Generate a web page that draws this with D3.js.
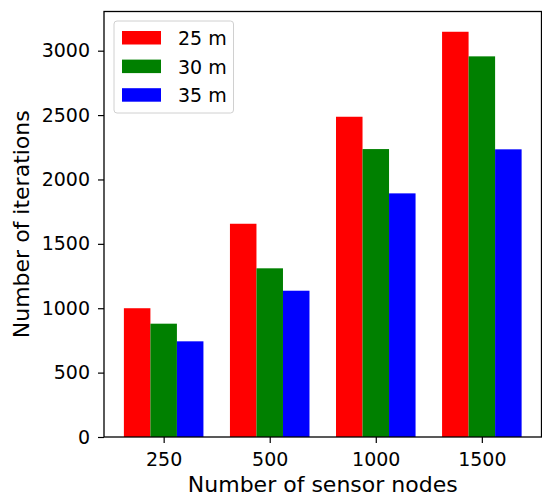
<!DOCTYPE html>
<html>
<head>
<meta charset="utf-8">
<script src="https://cdn.jsdelivr.net/npm/d3@7"></script>
<style>
  body { margin: 0; background: #fff; }
  svg { display: block; font-family: "DejaVu Sans", sans-serif; }
</style>
</head>
<body>
<svg id="chart" width="542" height="496"></svg>
<script>
var nodes = ["250", "500", "1000", "1500"];
var ranges = ["25 m", "30 m", "35 m"];
var colors = ["#ff0000", "#008000", "#0000ff"];
var iters25 = [1000, 1656, 2487, 3147];
var iters30 = [880, 1310, 2236, 2956];
var iters35 = [743, 1136, 1892, 2234];
var yTicks = [0, 500, 1000, 1500, 2000, 2500, 3000];

var series = [iters25, iters30, iters35];

var margin = {left: 104, right: 0.5, top: 11.5, bottom: 59};
var width = 542, height = 496;
var tickFont = 19, labelFont = 22;

var svg = d3.select("#chart");

var x = d3.scalePoint()
  .domain(nodes)
  .range([margin.left, width - margin.right])
  .padding(0.5625);

var step = x.step();
var x1 = d3.scaleBand()
  .domain(ranges)
  .range([-step * 0.375, step * 0.375]);

var ymax = d3.max(series, s => d3.max(s)) * 1.05;
var y = d3.scaleLinear()
  .domain([0, ymax])
  .range([height - margin.bottom, margin.top]);

// bars
series.forEach(function (vals, si) {
  svg.append("g")
    .attr("fill", colors[si])
    .selectAll("rect")
    .data(vals)
    .enter().append("rect")
    .attr("x", (d, i) => x(nodes[i]) + x1(ranges[si]))
    .attr("width", x1.bandwidth())
    .attr("y", d => y(d))
    .attr("height", d => y(0) - y(d));
});

// axes
function styleAxis(g) {
  g.select(".domain").remove();
  g.selectAll(".tick line").attr("stroke", "#000").attr("stroke-width", 1.2);
  g.selectAll(".tick text").attr("fill", "#000").attr("font-size", tickFont + "px")
    .attr("font-family", "DejaVu Sans, sans-serif");
}

svg.append("g")
  .attr("transform", `translate(0,${height - margin.bottom})`)
  .call(d3.axisBottom(x).tickSize(6).tickPadding(10))
  .call(styleAxis);

svg.append("g")
  .attr("transform", `translate(${margin.left},0)`)
  .call(d3.axisLeft(y).tickValues(yTicks).tickFormat(d3.format("d")).tickSize(6).tickPadding(8))
  .call(styleAxis);

// frame
svg.append("rect")
  .attr("x", margin.left)
  .attr("y", margin.top)
  .attr("width", width - margin.right - margin.left)
  .attr("height", height - margin.bottom - margin.top)
  .attr("fill", "none")
  .attr("stroke", "#000")
  .attr("stroke-width", 1.3);

// axis labels
svg.append("text")
  .attr("x", (margin.left + width - margin.right) / 2)
  .attr("y", 492)
  .attr("text-anchor", "middle")
  .attr("font-size", labelFont + "px")
  .text("Number of sensor nodes");

svg.append("text")
  .attr("transform", `translate(28.5,${(margin.top + height - margin.bottom) / 2}) rotate(-90)`)
  .attr("text-anchor", "middle")
  .attr("font-size", labelFont + "px")
  .text("Number of iterations");

// legend
var legend = svg.append("g").attr("transform", "translate(114,21)");
legend.append("rect")
  .attr("width", 119.5)
  .attr("height", 92)
  .attr("rx", 3)
  .attr("fill", "#fff")
  .attr("fill-opacity", 0.8)
  .attr("stroke", "#d0d0d0")
  .attr("stroke-width", 1);

var items = legend.selectAll(".item")
  .data(ranges)
  .enter().append("g")
  .attr("class", "item")
  .attr("transform", (d, i) => `translate(8,${10 + i * 28.6})`);

items.append("rect")
  .attr("width", 39)
  .attr("height", 13.5)
  .attr("fill", (d, i) => colors[i]);

items.append("text")
  .attr("x", 56)
  .attr("y", 14)
  .attr("font-size", tickFont + "px")
  .text(d => d);
</script>
</body>
</html>
